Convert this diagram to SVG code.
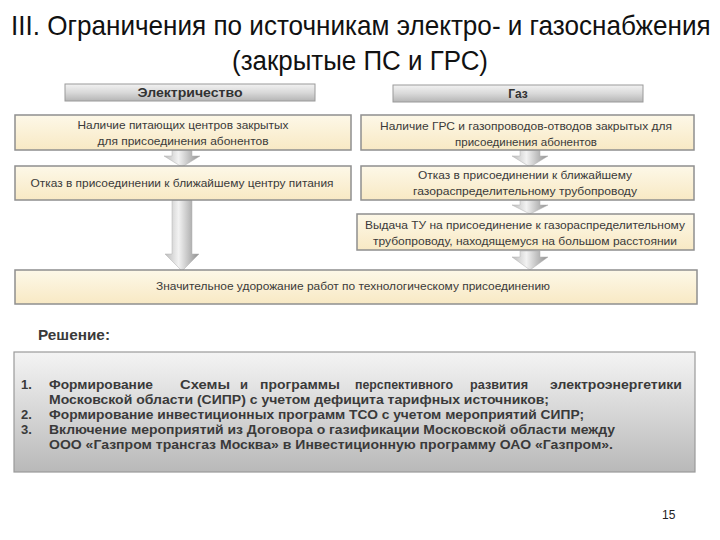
<svg xmlns="http://www.w3.org/2000/svg" width="720" height="540" viewBox="0 0 720 540">
  <style>
    .title { font-family: "Liberation Sans", Arial, sans-serif; font-size: 27px; fill: #111; }
    .hdr { font-family: "Liberation Sans", Arial, sans-serif; font-size: 12px; font-weight: bold; fill: #333; }
    .box { fill: url(#cream); stroke: #8f8f8f; stroke-width: 1.5; }
    .banner { fill: url(#grayv); stroke: #9a9a9a; stroke-width: 1; }
    .t { font-family: "Liberation Sans", Arial, sans-serif; font-size: 11px; fill: #3a3a3a; text-anchor: middle; }
    .arrow { fill: url(#arrowg); stroke: #b0b0b0; stroke-width: 0.5; }
    .sol { fill: url(#solg); stroke: #9a9a9a; stroke-width: 1.2; }
    .li { font-family: "Liberation Sans", Arial, sans-serif; font-size: 13px; font-weight: bold; fill: #3a3a3a; }
    .num { font-family: "Liberation Sans", Arial, sans-serif; font-size: 12px; fill: #222; }
  </style>
  <defs>
    <linearGradient id="cream" x1="0" y1="0" x2="0" y2="1">
      <stop offset="0" stop-color="#fdf8e8"/>
      <stop offset="1" stop-color="#f8e9c4"/>
    </linearGradient>
    <linearGradient id="grayv" x1="0" y1="0" x2="0" y2="1">
      <stop offset="0" stop-color="#f2f2f2"/>
      <stop offset="0.5" stop-color="#d9d9d9"/>
      <stop offset="1" stop-color="#b5b5b5"/>
    </linearGradient>
    <linearGradient id="solg" x1="0" y1="0" x2="0" y2="1">
      <stop offset="0" stop-color="#f4f4f4"/>
      <stop offset="1" stop-color="#b9b9b9"/>
    </linearGradient>
    <linearGradient id="arrowg" x1="0" y1="0" x2="1" y2="0">
      <stop offset="0" stop-color="#bcbcbc"/>
      <stop offset="0.4" stop-color="#f2f2f2"/>
      <stop offset="1" stop-color="#8e8e8e"/>
    </linearGradient>
  </defs>

  <g id="title">
    <text class="title" transform="translate(11,35) scale(0.88,1)" x="0" y="0" textLength="795" lengthAdjust="spacingAndGlyphs">III. Ограничения по источникам электро- и газоснабжения</text>
    <text class="title" x="232" y="70" textLength="256" lengthAdjust="spacingAndGlyphs">(закрытые ПС и ГРС)</text>
  </g>

  <g id="connectors">
    <path class="arrow" d="M172 150 H192 V156 H200 L182 167 L164 156 H172 Z"/>
    <path class="arrow" d="M172 200 H192 V254 H199 L182 271 L165 254 H172 Z"/>
    <path class="arrow" d="M520 150 H540 V156 H548 L530 167 L512 156 H520 Z"/>
    <path class="arrow" d="M520 200 H540 V205 H548 L530 214 L512 205 H520 Z"/>
    <path class="arrow" d="M520 251 H540 V257 H548 L530 270 L512 257 H520 Z"/>
  </g>

  <g id="hdr-electricity">
    <rect class="banner" x="65" y="84" width="250" height="17"/>
    <text class="hdr" x="190" y="97" text-anchor="middle" textLength="105" lengthAdjust="spacingAndGlyphs">Электричество</text>
  </g>
  <g id="hdr-gas">
    <rect class="banner" x="393" y="85" width="250" height="17"/>
    <text class="hdr" x="518" y="98" text-anchor="middle">Газ</text>
  </g>

  <g id="e1">
    <rect class="box" x="15" y="115" width="336" height="35"/>
    <text class="t" x="183" y="129" textLength="211" lengthAdjust="spacingAndGlyphs">Наличие питающих центров закрытых</text>
    <text class="t" x="183" y="145" textLength="171" lengthAdjust="spacingAndGlyphs">для присоединения абонентов</text>
  </g>
  <g id="e2">
    <rect class="box" x="15" y="166" width="336" height="34"/>
    <text class="t" x="182" y="187" textLength="303" lengthAdjust="spacingAndGlyphs">Отказ в присоединении к ближайшему центру питания</text>
  </g>
  <g id="g1">
    <rect class="box" x="361" y="115" width="333" height="35"/>
    <text class="t" x="526" y="130" textLength="292" lengthAdjust="spacingAndGlyphs">Наличие ГРС и газопроводов-отводов закрытых для</text>
    <text class="t" x="526" y="146" textLength="142" lengthAdjust="spacingAndGlyphs">присоединения абонентов</text>
  </g>
  <g id="g2">
    <rect class="box" x="361" y="166" width="333" height="34"/>
    <text class="t" x="525" y="179" textLength="214" lengthAdjust="spacingAndGlyphs">Отказ в присоединении к ближайшему</text>
    <text class="t" x="525" y="195" textLength="224" lengthAdjust="spacingAndGlyphs">газораспределительному трубопроводу</text>
  </g>
  <g id="g3">
    <rect class="box" x="357" y="214" width="337" height="36"/>
    <text class="t" x="525" y="229" textLength="320" lengthAdjust="spacingAndGlyphs">Выдача ТУ на присоединение к газораспределительному</text>
    <text class="t" x="525" y="245" textLength="304" lengthAdjust="spacingAndGlyphs">трубопроводу, находящемуся на большом расстоянии</text>
  </g>
  <g id="result">
    <rect class="box" x="15" y="270" width="682" height="34"/>
    <text class="t" x="353" y="290" textLength="394" lengthAdjust="spacingAndGlyphs">Значительное удорожание работ по технологическому присоединению</text>
  </g>

  <g id="solution">
    <text class="li" x="38" y="340" textLength="72" lengthAdjust="spacingAndGlyphs" style="font-size:14px">Решение:</text>
    <rect class="sol" x="14" y="352" width="681" height="120"/>
    <text class="li" x="21" y="389">1.</text>
    <text class="li" x="49" y="389" textLength="104" lengthAdjust="spacingAndGlyphs">Формирование</text>
    <text class="li" x="180" y="389" textLength="50" lengthAdjust="spacingAndGlyphs">Схемы</text>
    <text class="li" x="240" y="389" textLength="8" lengthAdjust="spacingAndGlyphs">и</text>
    <text class="li" x="260" y="389" textLength="80" lengthAdjust="spacingAndGlyphs">программы</text>
    <text class="li" x="355" y="389" textLength="98" lengthAdjust="spacingAndGlyphs">перспективного</text>
    <text class="li" x="470" y="389" textLength="58" lengthAdjust="spacingAndGlyphs">развития</text>
    <text class="li" x="550" y="389" textLength="132" lengthAdjust="spacingAndGlyphs">электроэнергетики</text>
    <text class="li" x="49" y="404" textLength="500" lengthAdjust="spacingAndGlyphs">Московской области (СИПР) с учетом дефицита тарифных источников;</text>
    <text class="li" x="21" y="419">2.</text>
    <text class="li" x="49" y="419" textLength="535" lengthAdjust="spacingAndGlyphs">Формирование инвестиционных программ ТСО с учетом мероприятий СИПР;</text>
    <text class="li" x="21" y="434">3.</text>
    <text class="li" x="49" y="434" textLength="566" lengthAdjust="spacingAndGlyphs">Включение мероприятий из Договора о газификации Московской области между</text>
    <text class="li" x="49" y="449" textLength="564" lengthAdjust="spacingAndGlyphs">ООО «Газпром трансгаз Москва» в Инвестиционную программу ОАО «Газпром».</text>
  </g>

  <g id="page">
    <text class="num" x="662" y="519">15</text>
  </g>
</svg>
